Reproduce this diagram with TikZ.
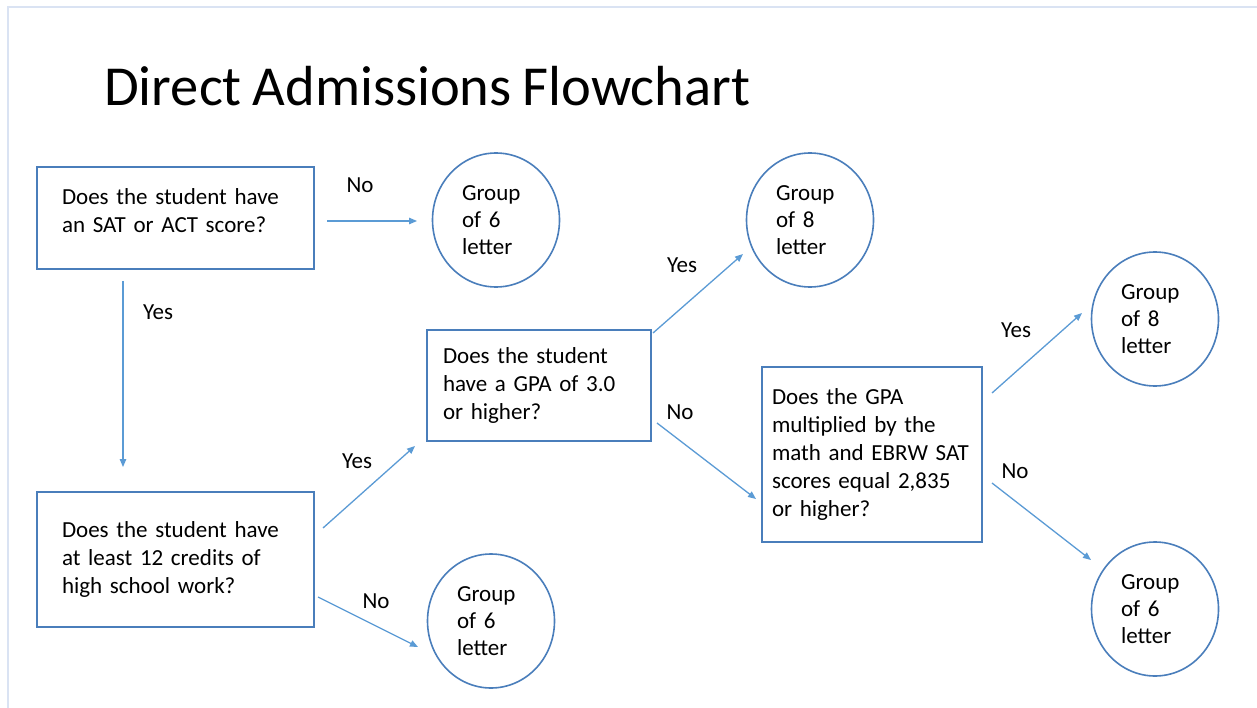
\documentclass[tikz,border=0pt]{standalone}
\usepackage{fontspec}
\setmainfont{Carlito}[WordSpace=0.85]
\usetikzlibrary{arrows.meta,shapes.geometric,calc}
\definecolor{boxline}{HTML}{4A7EBB}
\definecolor{arrowc}{HTML}{5B9BD5}
\definecolor{framec}{HTML}{DAE3F3}
\begin{document}
\begin{tikzpicture}[x=1pt,y=-1pt,
  qbox/.style={draw=boxline, line width=1.6pt, rectangle, align=left,
    anchor=north west, outer sep=0pt, inner ysep=0pt,
    font=\fontsize{23}{28}\selectfont},
  grp/.style={draw=boxline, line width=1.6pt, ellipse, align=left, text width=68pt,
    minimum width=127pt, minimum height=134pt, inner sep=0pt, outer sep=0pt,
    font=\fontsize{23}{27}\selectfont},
  lbl/.style={inner sep=0pt, font=\fontsize{23}{28}\selectfont},
  arr/.style={draw=arrowc, line width=1.3pt, -{Triangle[length=8pt,width=6.5pt]}}]
\fill[white] (0,0) rectangle (1257,708);
\useasboundingbox (0,0) rectangle (1257,708);
\draw[framec, line width=2.5pt] (8,708) -- (8,7) -- (1257,7);

\node[inner sep=0pt, anchor=base west, font=\fontsize{56.5}{67}\selectfont] (title) at (104,106) {Direct Admissions Flowchart};

\node[qbox, minimum width=277pt, minimum height=102pt, inner xsep=25pt, text width=227pt, text depth=42pt] (b1) at (37,167)
  {Does the student have\\an SAT or ACT score?};
\node[qbox, minimum width=277pt, minimum height=135pt, inner xsep=25pt, text width=227pt] (b2) at (37,492)
  {Does the student have\\at least 12 credits of\\high school work?};
\node[qbox, minimum width=224pt, minimum height=111pt, inner xsep=16pt, text width=192pt] (b3) at (427,330)
  {Does the student\\have a GPA of 3.0\\or higher?};
\node[qbox, minimum width=220pt, minimum height=175pt, inner xsep=10pt, text width=200pt] (b4) at (762,367)
  {Does the GPA\\multiplied by the\\math and EBRW SAT\\scores equal 2,835\\or higher?};

\node[grp] (c1) at (496,220) {Group\\of 6\\letter};
\node[grp] (c2) at (810,220) {Group\\of 8\\letter};
\node[grp] (c3) at (1155,319) {Group\\of 8\\letter};
\node[grp] (c4) at (1155,609) {Group\\of 6\\letter};
\node[grp] (c5) at (491,621) {Group\\of 6\\letter};

\draw[arr] ($(b1.east)+(13,3)$) -- ($(c1.west)+(-15.5,1)$);
\draw[arr] ($(b1.south)+(-52.5,12)$) -- ($(b2.north)+(-52.5,-25)$);
\draw[arr] ($(b2.east)+(9,-31.5)$) -- ($(b3.west)+(-12,60.5)$);
\draw[arr] ($(b2.east)+(4,37.5)$) -- ($(c5.center)+(-73,26)$);
\draw[arr] ($(b3.east)+(2,-52.5)$) -- ($(c2.center)+(-67,34)$);
\draw[arr] ($(b3.east)+(6,37.5)$) -- ($(b4.west)+(-6,44.5)$);
\draw[arr] ($(b4.east)+(10,-61.5)$) -- ($(c3.center)+(-73,-6)$);
\draw[arr] ($(b4.east)+(10,28.5)$) -- ($(c4.center)+(-64,-49)$);

\node[lbl] (l1) at (360,185) {No};
\node[lbl] (l2) at (158,312) {Yes};
\node[lbl] (l3) at (357,461) {Yes};
\node[lbl] (l4) at (376,601) {No};
\node[lbl] (l5) at (682,265) {Yes};
\node[lbl] (l6) at (680,412) {No};
\node[lbl] (l7) at (1016,330) {Yes};
\node[lbl] (l8) at (1015,471) {No};
\end{tikzpicture}
\end{document}
